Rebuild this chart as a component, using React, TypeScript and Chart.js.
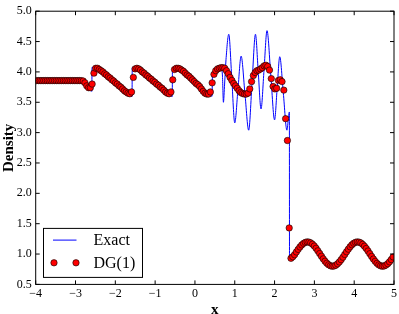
import { useEffect, useRef } from 'react';
import { Chart, registerables } from 'chart.js';

Chart.register(...registerables);

// ---- data ----
const seriesLabels = ['Exact', 'DG(1)'];

// DG(1) cell-centre values on the uniform 200-cell mesh of [-4, 5]
const dgStart = -3.9775;
const dgStep = 0.045;
const dgDensity = [
  3.857, 3.857, 3.857, 3.857, 3.857, 3.857, 3.857, 3.857, 3.857, 3.857,
  3.857, 3.857, 3.857, 3.857, 3.857, 3.857, 3.857, 3.857, 3.857, 3.857,
  3.857, 3.857, 3.857, 3.857, 3.857, 3.856, 3.85, 3.82, 3.77, 3.74,
  3.74, 3.80, 3.98, 4.06, 4.06, 4.04, 4.02, 4.00, 3.97, 3.95,
  3.92, 3.90, 3.87, 3.85, 3.82, 3.80, 3.77, 3.75, 3.72, 3.69,
  3.67, 3.65, 3.64, 3.67, 3.91, 4.05, 4.06, 4.05, 4.03, 4.00,
  3.98, 3.95, 3.93, 3.90, 3.88, 3.85, 3.83, 3.80, 3.78, 3.75,
  3.73, 3.70, 3.67, 3.65, 3.64, 3.67, 3.87, 4.04, 4.06, 4.06,
  4.05, 4.03, 4.01, 3.98, 3.95, 3.93, 3.90, 3.87, 3.84, 3.81,
  3.79, 3.76, 3.72, 3.68, 3.65, 3.635, 3.635, 3.67, 3.82, 3.96,
  4.02, 4.05, 4.06, 4.07, 4.07, 4.06, 4.02, 3.97, 3.91, 3.86,
  3.81, 3.77, 3.73, 3.69, 3.66, 3.645, 3.635, 3.635, 3.65, 3.72,
  3.84, 3.94, 3.99, 4.02, 4.03, 4.05, 4.07, 4.10, 4.11, 4.09,
  4.03, 3.89, 3.76, 3.72, 3.73, 3.86, 3.87, 3.84, 3.70, 3.23,
  2.87, 1.43, 0.93, 0.955, 0.989, 1.034, 1.077, 1.116, 1.150, 1.176,
  1.192, 1.200, 1.197, 1.184, 1.162, 1.132, 1.095, 1.053, 1.009, 0.964,
  0.921, 0.882, 0.849, 0.824, 0.807, 0.800, 0.803, 0.816, 0.839, 0.870,
  0.907, 0.948, 0.993, 1.037, 1.080, 1.119, 1.152, 1.177, 1.193, 1.200,
  1.196, 1.183, 1.160, 1.129, 1.092, 1.050, 1.006, 0.961, 0.918, 0.880,
  0.847, 0.822, 0.806, 0.800, 0.804, 0.818, 0.841, 0.872, 0.909, 0.952,
];

// Exact (reference) solution
const exactX = [
  -4.0, -2.88, -2.82, -2.76, -2.70, -2.64, -2.60, -2.59,
  -2.585, -2.5, -2.3, -2.0, -1.8, -1.65, -1.58,
  -1.575, -1.5, -1.3, -1.0, -0.8, -0.65, -0.57,
  -0.565, -0.45, -0.3, 0.0, 0.2, 0.35, 0.43,
  0.44, 0.50, 0.58, 0.66, 0.69, 0.715, 0.745, 0.78, 0.85, 0.925,
  1.00, 1.08, 1.16, 1.255, 1.35, 1.435, 1.52, 1.59, 1.66, 1.735,
  1.81, 1.905, 2.00, 2.065, 2.13, 2.22, 2.31, 2.35, 2.372,
  2.375, 2.4, 2.5, 2.6, 2.7, 2.83, 2.95, 3.05, 3.15, 3.25, 3.35,
  3.456, 3.55, 3.65, 3.75, 3.85, 3.95, 4.08, 4.2, 4.3, 4.4, 4.5,
  4.6, 4.71, 4.8, 4.9, 5.0,
];
const exactY = [
  3.857, 3.857, 3.85, 3.81, 3.75, 3.70, 3.685, 3.68,
  4.075, 4.06, 3.99, 3.83, 3.72, 3.63, 3.595,
  4.07, 4.06, 3.99, 3.83, 3.72, 3.63, 3.595,
  4.07, 4.06, 4.0, 3.84, 3.71, 3.63, 3.60,
  3.96, 4.03, 4.06, 4.05, 3.95, 3.50, 3.80, 4.20, 4.62, 3.90,
  3.16, 3.71, 4.26, 3.65, 3.04, 3.83, 4.62, 4.0, 3.39, 4.03,
  4.68, 3.95, 3.21, 3.73, 4.25, 3.65, 3.04, 3.25, 3.34,
  0.90, 0.893, 0.987, 1.084, 1.161, 1.20, 1.164, 1.088, 0.992, 0.897, 0.827,
  0.80, 0.822, 0.887, 0.98, 1.078, 1.157, 1.20, 1.167, 1.094, 0.998, 0.902,
  0.831, 0.80, 0.819, 0.882, 0.974,
];

const xTicks = [-4, -3, -2, -1, 0, 1, 2, 3, 4, 5];
const xTickLabels = ['\u22124', '\u22123', '\u22122', '\u22121', '0', '1', '2', '3', '4', '5'];
const yTicks = [0.5, 1.0, 1.5, 2.0, 2.5, 3.0, 3.5, 4.0, 4.5, 5.0];
const yTickLabels = ['0.5', '1.0', '1.5', '2.0', '2.5', '3.0', '3.5', '4.0', '4.5', '5.0'];

const SERIF = '"Liberation Serif", "DejaVu Serif", serif';
const EXACT_COLOR = '#0000ff';
const DG_COLOR = '#ff0000';

const framePlugin = {
  id: 'frameTicks',
  afterDatasetsDraw(chart: any) {
    const { ctx, chartArea: a, scales } = chart;
    const xs = scales.x;
    const ys = scales.y;
    ctx.save();
    ctx.strokeStyle = '#000';
    ctx.lineWidth = 1;
    const tl = 4;
    ctx.beginPath();
    xTicks.forEach((v) => {
      const p = xs.getPixelForValue(v);
      ctx.moveTo(p, a.bottom);
      ctx.lineTo(p, a.bottom - tl);
      ctx.moveTo(p, a.top);
      ctx.lineTo(p, a.top + tl);
    });
    yTicks.forEach((v) => {
      const p = ys.getPixelForValue(v);
      ctx.moveTo(a.left, p);
      ctx.lineTo(a.left + tl, p);
      ctx.moveTo(a.right, p);
      ctx.lineTo(a.right - tl, p);
    });
    ctx.stroke();
    ctx.strokeRect(a.left, a.top, a.right - a.left, a.bottom - a.top);
    ctx.restore();
  },
};

const legendPlugin = {
  id: 'innerLegend',
  afterDraw(chart: any) {
    const { ctx, chartArea: a } = chart;
    const left = a.left + 7.8;
    const bottom = a.bottom - 7;
    const w = 99;
    const h = 49;
    const top = bottom - h;
    ctx.save();
    ctx.fillStyle = '#fff';
    ctx.fillRect(left, top, w, h);
    ctx.strokeStyle = '#000';
    ctx.lineWidth = 1;
    ctx.strokeRect(left, top, w, h);
    // Exact entry
    const y1 = top + 11.7;
    ctx.strokeStyle = EXACT_COLOR;
    ctx.beginPath();
    ctx.moveTo(left + 9.5, y1);
    ctx.lineTo(left + 33, y1);
    ctx.stroke();
    // DG entry
    const y2 = top + 34.4;
    [left + 10.5, left + 32.5].forEach((cx) => {
      ctx.beginPath();
      ctx.arc(cx, y2, 3.2, 0, Math.PI * 2);
      ctx.fillStyle = DG_COLOR;
      ctx.fill();
      ctx.strokeStyle = '#000';
      ctx.lineWidth = 0.6;
      ctx.stroke();
    });
    ctx.fillStyle = '#000';
    ctx.font = '16px ' + SERIF;
    ctx.textBaseline = 'middle';
    ctx.textAlign = 'left';
    ctx.fillText(seriesLabels[0], left + 50, y1 + 1);
    ctx.fillText(seriesLabels[1], left + 50, y2 + 0.5);
    ctx.restore();
  },
};

export default function App() {
  const ref = useRef<HTMLCanvasElement | null>(null);

  useEffect(() => {
    if (!ref.current) return;
    const exactData = exactX.map((x, i) => ({ x, y: exactY[i] }));
    const dgData = dgDensity.map((y, i) => ({ x: dgStart + dgStep * i, y }));
    const chart = new Chart(ref.current, {
      type: 'scatter',
      data: {
        datasets: [
          {
            label: seriesLabels[0],
            data: exactData,
            showLine: true,
            borderColor: EXACT_COLOR,
            borderWidth: 1,
            pointRadius: 0,
            cubicInterpolationMode: 'monotone',
            order: 2,
          } as any,
          {
            label: seriesLabels[1],
            data: dgData,
            showLine: false,
            pointRadius: 3.2,
            pointBackgroundColor: DG_COLOR,
            pointBorderColor: '#000',
            pointBorderWidth: 0.6,
            order: 1,
          } as any,
        ],
      },
      options: {
        animation: false,
        responsive: false,
        devicePixelRatio: 1,
        layout: { padding: { top: 5.6, right: 3.3, left: 0, bottom: 0 } },
        plugins: {
          legend: { display: false },
          tooltip: { enabled: false },
        },
        scales: {
          x: {
            type: 'linear',
            min: -4,
            max: 5,
            afterBuildTicks: (s: any) => {
              s.ticks = xTicks.map((v) => ({ value: v }));
            },
            afterFit: (s: any) => {
              s.height = 29.6;
            },
            ticks: {
              autoSkip: false,
              maxRotation: 0,
              padding: 2,
              color: '#000',
              font: { family: SERIF, size: 12 },
              callback: (v: any) => xTickLabels[xTicks.indexOf(Number(v))] ?? '',
            },
            grid: { display: false, drawTicks: false },
            border: { display: false },
            title: {
              display: true,
              text: 'x',
              color: '#000',
              font: { family: SERIF, size: 15, weight: 'bold' },
              padding: { top: 0, bottom: -5 },
            },
          },
          y: {
            type: 'linear',
            min: 0.5,
            max: 5,
            afterBuildTicks: (s: any) => {
              s.ticks = yTicks.map((v) => ({ value: v }));
            },
            afterFit: (s: any) => {
              s.width = 35.7;
            },
            ticks: {
              autoSkip: false,
              padding: 4,
              color: '#000',
              font: { family: SERIF, size: 12 },
              callback: (v: any) => yTickLabels[yTicks.indexOf(Number(v))] ?? '',
            },
            grid: { display: false, drawTicks: false },
            border: { display: false },
            title: {
              display: true,
              text: 'Density',
              color: '#000',
              font: { family: SERIF, size: 15, weight: 'bold' },
              padding: { top: 0, bottom: 0 },
            },
          },
        },
      },
      plugins: [framePlugin, legendPlugin],
    });
    return () => chart.destroy();
  }, []);

  return (
    <div style={{ position: 'fixed', left: 0, top: 0, width: 399, height: 314, background: '#fff' }}>
      <canvas ref={ref} width={399} height={314} style={{ width: 399, height: 314, display: 'block' }} />
    </div>
  );
}
